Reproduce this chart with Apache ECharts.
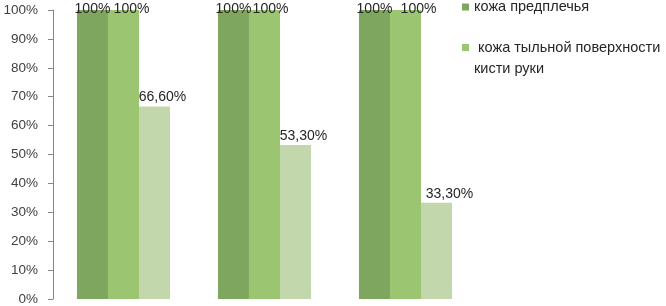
<!DOCTYPE html>
<html>
<head>
<meta charset="utf-8">
<script src="https://cdn.jsdelivr.net/npm/echarts@6/dist/echarts.min.js"></script>
<style>html,body{margin:0;padding:0;background:#fff;}#c{width:666px;height:306px;}</style>
</head>
<body>
<div id="c"></div>
<script>
const categories = ['1', '2', '3'];
const seriesNames = ['кожа предплечья', 'кожа тыльной поверхности кисти руки', 'третья группа'];
const forearm = [100, 100, 100];
const handBack = [100, 100, 100];
const third = [66.6, 53.3, 33.3];
const yTicks = ['0%', '10%', '20%', '30%', '40%', '50%', '60%', '70%', '80%', '90%', '100%'];

const handLabelShift = [8, 6, 13];
const thirdLabelShift = [8, 8, 13];

const fmt = v => (v % 1 === 0 ? v + '%' : v.toFixed(2).replace('.', ',') + '%');
const labelFont = { fontFamily: 'Liberation Sans', fontSize: 14, color: '#262626' };

const chart = echarts.init(document.getElementById('c'), null, { renderer: 'canvas' });
chart.setOption({
  animation: false,
  grid: { left: 53, right: 190, top: 10, bottom: 7 },
  xAxis: {
    type: 'category', data: categories,
    axisLine: { show: false }, axisTick: { show: false }, axisLabel: { show: false }
  },
  yAxis: {
    type: 'value', min: 0, max: 100, interval: 10,
    axisLine: { show: true, lineStyle: { color: '#868686', width: 1 } },
    axisTick: { show: true, inside: false, length: 5, lineStyle: { color: '#868686' } },
    splitLine: { show: false },
    axisLabel: {
      margin: 15, fontFamily: 'Liberation Sans', fontSize: 13.5, color: '#404040',
      formatter: v => yTicks[Math.round(v / 10)]
    }
  },
  legend: [
    {
      data: [seriesNames[0]], left: 462, top: -1, orient: 'vertical', padding: 0,
      itemWidth: 7, itemHeight: 7, itemGap: 0, selectedMode: false,
      icon: 'rect', textStyle: { fontFamily: 'Liberation Sans', fontSize: 14.5, color: '#262626', lineHeight: 16 }
    },
    {
      data: [seriesNames[1]], left: 462, top: 16, orient: 'vertical', padding: 0,
      itemWidth: 7, itemHeight: 7, itemGap: 0, selectedMode: false,
      icon: 'rect',
      formatter: () => '\n\u00a0кожа тыльной поверхности\nкисти руки',
      textStyle: { fontFamily: 'Liberation Sans', fontSize: 14.5, color: '#262626', lineHeight: 21 }
    }
  ],
  series: [
    {
      name: seriesNames[0], type: 'bar', data: forearm,
      barGap: '0%', barCategoryGap: '34%',
      itemStyle: { color: '#7FA65E' },
      label: { show: true, position: 'top', distance: -6, formatter: p => fmt(p.value), ...labelFont }
    },
    {
      name: seriesNames[1], type: 'bar',
      data: handBack.map((v, i) => ({ value: v, label: { offset: [handLabelShift[i], 0] } })),
      itemStyle: { color: '#9BC570' },
      label: { show: true, position: 'top', distance: -6, formatter: p => fmt(p.value), ...labelFont }
    },
    {
      name: seriesNames[2], type: 'bar',
      data: third.map((v, i) => ({ value: v, label: { offset: [thirdLabelShift[i], 0] } })),
      itemStyle: { color: '#C3D7AD' },
      label: { show: true, position: 'top', distance: 2, formatter: p => fmt(p.value), ...labelFont }
    }
  ]
});
</script>
</body>
</html>
